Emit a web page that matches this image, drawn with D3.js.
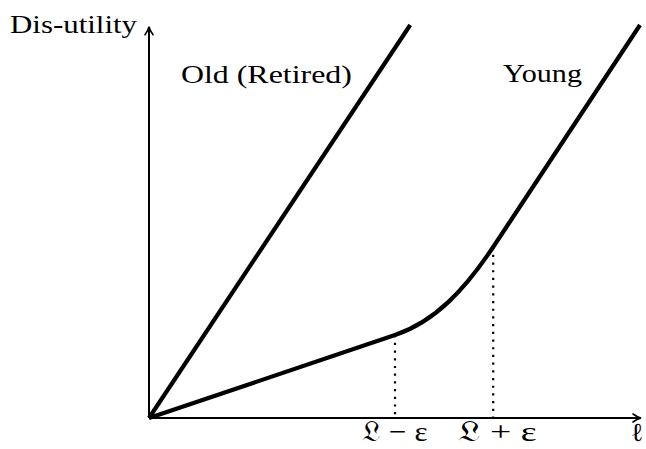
<!DOCTYPE html>
<html>
<head>
<meta charset="utf-8">
<script src="https://cdn.jsdelivr.net/npm/d3@7"></script>
<style>
    body { margin: 0; background: #fff; }
    svg text { font-family: "Liberation Serif", "DejaVu Serif", serif; fill: #000; }
</style>
</head>
<body>
<div id="chart"></div>
<script>
// data (abstract units, 0..100 on both axes)
var oldLine = [[0, 0], [53.2, 100]];
var youngStart = [0, 0];
var youngKnee = [50.1, 21.1];
var youngCtrl = [[58.5, 24.7], [64.4, 32.9]];
var youngBend = [70.1, 43.5];
var youngEnd = [100, 100];
var guideX = [50.1, 70.1];
var guideY = [21.1, 43.5];
var tickLabels = ["\uD835\uDD0F \u2212 \u03B5", "\uD835\uDD0F + \u03B5"];
var tickWidths = [65, 79];
var axisLabelY = "Dis-utility";
var axisLabelX = "\u2113";
var seriesLabels = [
    {text: "Old (Retired)", x: 6.5, y: 85.2, w: 171},
    {text: "Young", x: 72.1, y: 85.5, w: 79}
];

var width = 646,
    height = 449;

var x = d3.scaleLinear().domain([0, 100]).range([149, 640]),
    y = d3.scaleLinear().domain([0, 100]).range([418, 25]);

var svg = d3.select("#chart")
    .append("svg")
    .attr("width", width)
    .attr("height", height);

var defs = svg.append("defs");
defs.append("marker")
    .attr("id", "arrow")
    .attr("viewBox", "0 0 10 10")
    .attr("refX", 8)
    .attr("refY", 5)
    .attr("markerWidth", 10)
    .attr("markerHeight", 10)
    .attr("markerUnits", "userSpaceOnUse")
    .attr("orient", "auto")
    .append("path")
    .attr("d", "M1,1 Q5,4 9,5 Q5,6 1,9")
    .attr("fill", "none")
    .attr("stroke", "#000")
    .attr("stroke-width", 1.6)
    .attr("stroke-linecap", "round");

// guide lines
svg.selectAll(".guide")
    .data(guideX)
    .enter()
    .append("line")
    .attr("class", "guide")
    .attr("x1", function (d) { return x(d); })
    .attr("x2", function (d) { return x(d); })
    .attr("y1", function (d, i) { return y(guideY[i]); })
    .attr("y2", y(0))
    .attr("stroke", "#000")
    .attr("stroke-width", 2.2)
    .attr("stroke-dasharray", "2.2,5.5");

// axes
svg.append("line")
    .attr("x1", x(0)).attr("y1", y(0))
    .attr("x2", x(100)).attr("y2", y(0))
    .attr("stroke", "#000")
    .attr("stroke-width", 2)
    .attr("marker-end", "url(#arrow)");

svg.append("line")
    .attr("x1", x(0)).attr("y1", y(0))
    .attr("x2", x(0)).attr("y2", y(99.3))
    .attr("stroke", "#000")
    .attr("stroke-width", 2)
    .attr("marker-end", "url(#arrow)");

// old line
svg.append("path")
    .attr("d", d3.line().x(function (d) { return x(d[0]); }).y(function (d) { return y(d[1]); })(oldLine))
    .attr("fill", "none")
    .attr("stroke", "#000")
    .attr("stroke-width", 4.2);

// young curve
var p = d3.path();
p.moveTo(x(youngStart[0]), y(youngStart[1]));
p.lineTo(x(youngKnee[0]), y(youngKnee[1]));
p.bezierCurveTo(x(youngCtrl[0][0]), y(youngCtrl[0][1]),
    x(youngCtrl[1][0]), y(youngCtrl[1][1]),
    x(youngBend[0]), y(youngBend[1]));
p.lineTo(x(youngEnd[0]), y(youngEnd[1]));

svg.append("path")
    .attr("d", p.toString())
    .attr("fill", "none")
    .attr("stroke", "#000")
    .attr("stroke-width", 4.2)
    .attr("stroke-linejoin", "round");

// labels
svg.append("text")
    .attr("x", 10)
    .attr("y", 33)
    .attr("textLength", 127)
    .attr("lengthAdjust", "spacingAndGlyphs")
    .style("font-size", "26px")
    .text(axisLabelY);

svg.selectAll(".series-label")
    .data(seriesLabels)
    .enter()
    .append("text")
    .attr("class", "series-label")
    .attr("x", function (d) { return x(d.x); })
    .attr("y", function (d) { return y(d.y); })
    .attr("textLength", function (d) { return d.w; })
    .attr("lengthAdjust", "spacingAndGlyphs")
    .style("font-size", "26px")
    .text(function (d) { return d.text; });

svg.selectAll(".tick-label")
    .data(guideX)
    .enter()
    .append("text")
    .attr("class", "tick-label")
    .attr("x", function (d, i) { return x(d) + (i ? 4 : 0) - tickWidths[i] / 2; })
    .attr("y", 441)
    .attr("textLength", function (d, i) { return tickWidths[i]; })
    .attr("lengthAdjust", "spacingAndGlyphs")
    .style("font-size", "28px")
    .text(function (d, i) { return tickLabels[i]; });

svg.append("text")
    .attr("x", 637)
    .attr("y", 441)
    .attr("text-anchor", "middle")
    .style("font-size", "26px")
    .text(axisLabelX);
</script>
</body>
</html>
